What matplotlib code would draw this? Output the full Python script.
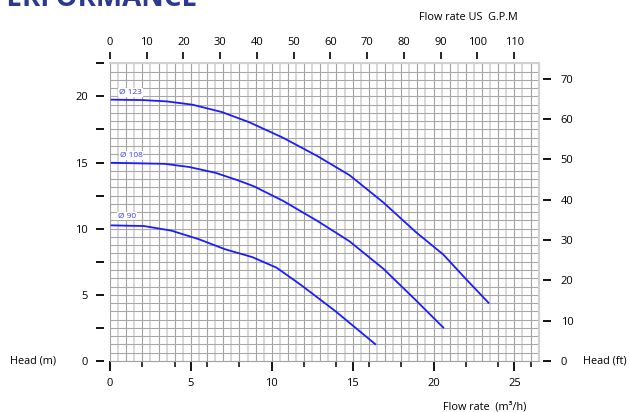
import numpy as np
import matplotlib
matplotlib.use('Agg')
import matplotlib.pyplot as plt

plt.rcParams['font.family'] = ['Open Sans', 'DejaVu Sans']

# pump curves, flow in m3/h, head in m
q123 = [0.1, 2.0, 3.5, 5.1, 6.9, 8.6, 10.7, 12.8, 14.8, 16.9, 18.9, 20.6, 22.0, 23.4]
h123 = [19.75, 19.72, 19.62, 19.37, 18.82, 18.05, 16.87, 15.5, 14.05, 11.98, 9.75, 8.05, 6.2, 4.4]

q108 = [0.1, 3.4, 4.9, 6.5, 7.9, 8.9, 10.7, 12.8, 14.8, 16.9, 18.9, 20.6]
h108 = [14.98, 14.9, 14.66, 14.23, 13.66, 13.2, 12.1, 10.6, 9.05, 6.97, 4.6, 2.53]

q90 = [0.1, 2.1, 3.8, 5.5, 7.1, 8.8, 10.3, 11.8, 13.9, 16.4]
h90 = [10.25, 10.2, 9.85, 9.2, 8.45, 7.85, 7.05, 5.75, 3.8, 1.27]

curve_labels = ['Ø 123', 'Ø 108', 'Ø 90']
label_pos = [(1.25, 20.3), (1.3, 15.55), (1.05, 10.95)]

x_ticks = [0, 5, 10, 15, 20, 25]
gpm_ticks = list(range(0, 111, 10))
m_ticks = [0, 5, 10, 15, 20]
ft_ticks = list(range(0, 71, 10))

M3H_TO_GPM = 4.403
M_TO_FT = 3.2808

fig = plt.figure(figsize=(6.29, 4.12), dpi=100)
ax = fig.add_axes([0.1749, 0.1238, 0.6815, 0.7226])
ax.set_xlim(0, 26.5)
ax.set_ylim(0, 22.5)

# grid: dark lines on whole m3/h, light on halves; rows every 0.625 m
for x in np.arange(0, 26.51, 0.5):
    dark = abs(x - round(x)) < 1e-6
    ax.axvline(x, color='#a3a3a3' if dark else '#d8d8d8', lw=0.8 if dark else 1.4, zorder=0)
for y in np.arange(0, 22.51, 0.625):
    ax.axhline(y, color='#a8a8a8', lw=0.8, zorder=0)

blue = '#1c1cff'
for q, h in [(q123, h123), (q108, h108), (q90, h90)]:
    ax.plot(q, h, color=blue, lw=1.3, zorder=3)
for txt, (x, y) in zip(curve_labels, label_pos):
    ax.text(x, y, txt, color='#3a3aff', fontsize=6, ha='center', va='center', zorder=4,
            bbox=dict(facecolor='white', edgecolor='none', pad=0.6))

for s in ['top', 'right']:
    ax.spines[s].set_color('#d0d0d0')
    ax.spines[s].set_linewidth(1.5)
ax.spines['bottom'].set_color('#a3a3a3')
ax.spines['bottom'].set_linewidth(0.8)
ax.spines['left'].set_position(('outward', 4))
ax.spines['left'].set_visible(False)

ax.set_xticks(x_ticks)
ax.set_xticks([2, 4, 6, 8, 12, 14, 16, 18, 22, 24, 26], minor=True)
ax.set_yticks(np.arange(0, 22.6, 2.5))
ax.set_yticklabels([str(int(v)) if v in m_ticks else '' for v in np.arange(0, 22.6, 2.5)])
ax.tick_params(axis='x', which='major', length=7.5, width=1.3, pad=5, labelsize=8, direction='out')
ax.tick_params(axis='x', which='minor', length=4.5, width=1.1, direction='out')
ax.tick_params(axis='y', length=6, width=1.3, pad=6, labelsize=8, direction='out')

top = ax.secondary_xaxis(1.0134, functions=(lambda q: q * M3H_TO_GPM, lambda g: g / M3H_TO_GPM))
top.set_xticks(gpm_ticks)
top.tick_params(length=5, width=1.2, pad=3, labelsize=8)
for s in top.spines.values():
    s.set_visible(False)

right = ax.secondary_yaxis(1.009, functions=(lambda m: m * M_TO_FT, lambda f: f / M_TO_FT))
right.set_yticks(ft_ticks)
right.tick_params(length=6, width=1.3, pad=7, labelsize=8)
for s in right.spines.values():
    s.set_visible(False)

fig.text(10 / 629, 1 - 361 / 412, 'Head (m)', fontsize=7.8, ha='left', va='center')
fig.text(583 / 629, 1 - 361 / 412, 'Head (ft)', fontsize=7.8, ha='left', va='center')
fig.text(443 / 629, 1 - 407 / 412, 'Flow rate  (m³/h)', fontsize=7.8, ha='left', va='center')
fig.text(419 / 629, 1 - 17 / 412, 'Flow rate US  G.P.M', fontsize=7.8, ha='left', va='center')
fig.text(198 / 629, 1 - 6 / 412, 'PERFORMANCE', fontsize=20, fontweight='bold',
         color='#2b3990', ha='right', va='baseline')

fig.savefig('out.png', dpi=100)
